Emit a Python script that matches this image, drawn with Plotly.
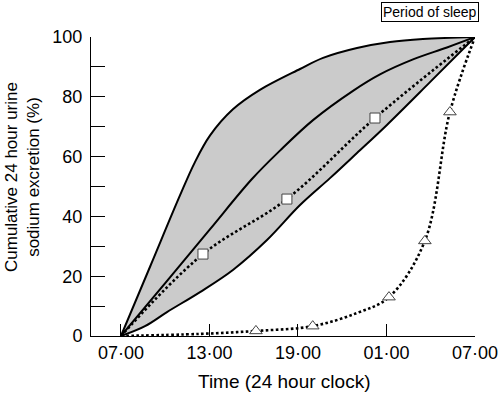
import plotly.graph_objects as go

# hours after 07:00
upper_x = [0, 2.0, 4.0, 5.0, 6.03, 7.59, 9.42, 12.14, 13.7, 16.0, 18.24, 20.47, 24]
upper_y = [0, 23.5, 47.0, 58.0, 67.0, 75.8, 82.3, 89.3, 93.0, 96.3, 98.3, 99.3, 100]

middle_x = [0, 3.0, 6.0, 8.88, 10.78, 13.02, 15.73, 17.56, 19.8, 22.1, 24]
middle_y = [0, 17.7, 35.5, 52.5, 62.0, 72.2, 82.0, 87.5, 92.5, 96.5, 100]

lower_x = [0, 1.63, 3.12, 5.36, 7.59, 9.9, 12.14, 14.17, 16.0, 18.03, 20.95, 24]
lower_y = [0, 3.3, 8.0, 14.7, 22.1, 32.1, 43.8, 52.8, 61.2, 70.6, 84.9, 100]

square_x = [0, 5.56, 11.25, 17.22, 24]
square_y = [0, 27.4, 45.8, 72.9, 100]

tri_x = [0, 5.36, 9.15, 13.0, 16.0, 18.17, 20.6, 22.3, 24]
tri_y = [0, 0.7, 1.7, 3.3, 7.7, 13.0, 31.8, 74.9, 100]
tri_marker_x = [9.15, 13.0, 18.17, 20.6, 22.3]
tri_marker_y = [1.7, 3.3, 13.0, 31.8, 74.9]

tick_vals = [0, 6, 12, 18, 24]
tick_text = ["07·00", "13·00", "19·00", "01·00", "07·00"]

FONT = "Liberation Sans, Arial, Helvetica, sans-serif"

fig = go.Figure()
fig.add_trace(go.Scatter(x=lower_x, y=lower_y, mode="lines",
                         line=dict(color="black", width=2, shape="spline", smoothing=1),
                         cliponaxis=False, showlegend=False, hoverinfo="skip"))
fig.add_trace(go.Scatter(x=upper_x, y=upper_y, mode="lines", fill="tonexty",
                         fillcolor="#cbcbcb",
                         line=dict(color="black", width=2, shape="spline", smoothing=1),
                         cliponaxis=False, showlegend=False, hoverinfo="skip"))
fig.add_trace(go.Scatter(x=middle_x, y=middle_y, mode="lines",
                         line=dict(color="black", width=2, shape="spline", smoothing=1),
                         cliponaxis=False, showlegend=False, hoverinfo="skip"))
fig.add_trace(go.Scatter(x=square_x, y=square_y, mode="lines",
                         line=dict(color="black", width=2.6, dash="2.6px,2.4px",
                                   shape="spline", smoothing=1),
                         cliponaxis=False, showlegend=False, hoverinfo="skip"))
fig.add_trace(go.Scatter(x=tri_x, y=tri_y, mode="lines",
                         line=dict(color="black", width=2.6, dash="2.6px,2.4px",
                                   shape="spline", smoothing=1),
                         cliponaxis=False, showlegend=False, hoverinfo="skip"))
fig.add_trace(go.Scatter(x=square_x[1:-1], y=square_y[1:-1], mode="markers",
                         marker=dict(symbol="square", size=10, color="white",
                                     line=dict(color="#444", width=1)),
                         cliponaxis=False, showlegend=False))
fig.add_trace(go.Scatter(x=tri_marker_x, y=tri_marker_y, mode="markers",
                         marker=dict(symbol="triangle-up", size=11, color="white",
                                     line=dict(color="#444", width=1)),
                         cliponaxis=False, showlegend=False))

fig.update_layout(
    width=500, height=393,
    margin=dict(l=91, r=25, t=37, b=57, autoexpand=False),
    paper_bgcolor="white", plot_bgcolor="white",
    font=dict(family=FONT, color="black", size=18),
    xaxis=dict(range=[-2.03, 24], tickvals=tick_vals, ticktext=tick_text,
               ticks="inside", ticklen=12, tickwidth=1, tickcolor="black",
               showline=True, linecolor="black", linewidth=1, automargin=False,
               showgrid=False, zeroline=False, tickfont=dict(size=18)),
    yaxis=dict(range=[0, 100], tickvals=[0, 20, 40, 60, 80, 100],
               ticks="inside", ticklen=14, tickwidth=1, tickcolor="black",
               minor=dict(tickvals=[10, 30, 50, 70, 90], ticks="inside",
                          ticklen=14, tickwidth=1, tickcolor="black"),
               showline=True, linecolor="black", linewidth=1, automargin=False,
               ticklabelstandoff=4,
               showgrid=False, zeroline=False, tickfont=dict(size=18)),
    annotations=[
        dict(text="Time (24 hour clock)", xref="paper", yref="paper",
             x=(284 - 91) / 384, y=(336 - 382) / 299, xanchor="center", yanchor="middle",
             showarrow=False, font=dict(size=19)),
        dict(text="Cumulative 24 hour urine<br>sodium excretion (%)", xref="paper", yref="paper",
             x=(22 - 91) / 384, y=(336 - 177) / 299, xanchor="center", yanchor="middle",
             textangle=-90, showarrow=False, font=dict(size=17)),
        dict(text="Period of sleep", xref="paper", yref="paper",
             x=(429.5 - 91) / 384, y=(336 - 12.5) / 299, xanchor="center", yanchor="middle",
             showarrow=False, font=dict(size=14), bordercolor="black", borderwidth=1,
             borderpad=1, bgcolor="white"),
    ],
)

fig.write_html("out.html", config={"displayModeBar": False, "staticPlot": True},
               post_script="document.body.style.margin='0';document.body.style.padding='0';"
                           "document.body.style.overflow='hidden';")
